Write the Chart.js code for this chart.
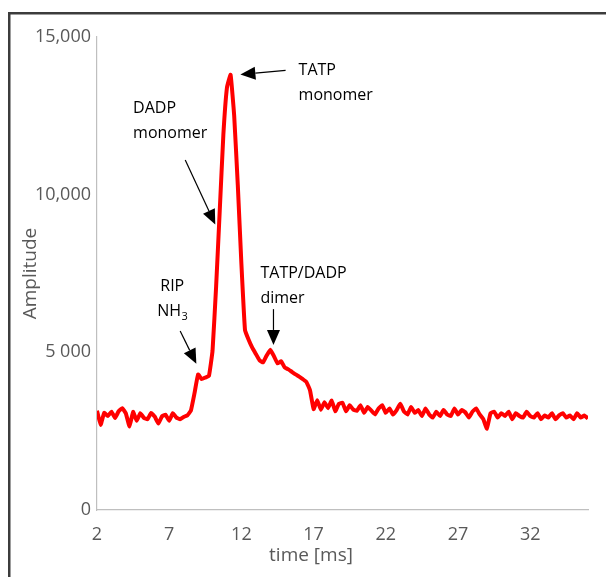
<!DOCTYPE html>
<html>
<head>
<meta charset="utf-8">
<script src="https://cdn.jsdelivr.net/npm/chart.js@4.4.1/dist/chart.umd.min.js"></script>
<style>
  html, body { margin: 0; padding: 0; background: #fff; }
  #wrap { width: 606px; height: 577px; position: relative; }
</style>
</head>
<body>
<div id="wrap"><canvas id="ims"></canvas></div>
<script>
// drift time [ms]
var times = [
  2.00, 2.25, 2.50, 2.75, 3.00, 3.25, 3.50, 3.75, 4.00, 4.25, 4.50, 4.75,
  5.00, 5.25, 5.50, 5.75, 6.00, 6.25, 6.50, 6.75, 7.00, 7.25, 7.50, 7.75,
  8.00, 8.25, 8.50, 8.75, 9.00, 9.25, 9.50, 9.75, 10.00, 10.25, 10.50, 10.75,
  11.00, 11.25, 11.50, 11.75, 12.00, 12.25, 12.50, 12.75, 13.00, 13.25, 13.50, 13.75,
  14.00, 14.25, 14.50, 14.75, 15.00, 15.25, 15.50, 15.75, 16.00, 16.25, 16.50, 16.75,
  17.00, 17.25, 17.50, 17.75, 18.00, 18.25, 18.50, 18.75, 19.00, 19.25, 19.50, 19.75,
  20.00, 20.25, 20.50, 20.75, 21.00, 21.25, 21.50, 21.75, 22.00, 22.25, 22.50, 22.75,
  23.00, 23.25, 23.50, 23.75, 24.00, 24.25, 24.50, 24.75, 25.00, 25.25, 25.50, 25.75,
  26.00, 26.25, 26.50, 26.75, 27.00, 27.25, 27.50, 27.75, 28.00, 28.25, 28.50, 28.75,
  29.00, 29.25, 29.50, 29.75, 30.00, 30.25, 30.50, 30.75, 31.00, 31.25, 31.50, 31.75,
  32.00, 32.25, 32.50, 32.75, 33.00, 33.25, 33.50, 33.75, 34.00, 34.25, 34.50, 34.75,
  35.00, 35.25, 35.50, 35.75, 36.00
];
// amplitude
var amplitude = [
  3150, 2700, 3080, 2980, 3120, 2920, 3130, 3230, 3060, 2650, 3110, 2830,
  3070, 2920, 2880, 3080, 2960, 2740, 2970, 3020, 2830, 3070, 2930, 2880,
  2950, 3000, 3150, 3700, 4300, 4150, 4200, 4250, 5050, 7100, 9500, 11900,
  13400, 13800, 12500, 10300, 7800, 5700, 5400, 5150, 4950, 4750, 4680, 4900,
  5080, 4880, 4650, 4720, 4520, 4460, 4380, 4300, 4230, 4150, 4060, 3800,
  3200, 3480, 3180, 3420, 3230, 3470, 3130, 3370, 3400, 3130, 3320, 3180,
  3150, 3320, 3080, 3270, 3150, 3030, 3220, 3320, 3080, 3220, 3030, 3170,
  3370, 3130, 3030, 3270, 3080, 3170, 2980, 3220, 3030, 2930, 3120, 2980,
  3170, 3030, 2980, 3220, 3030, 3170, 3100, 2930, 3120, 3220, 3030, 2880,
  2580, 3070, 3120, 2930, 3070, 2980, 3120, 2880, 3070, 2980, 2930, 3120,
  2980, 2930, 3070, 2880, 3000, 2930, 3070, 2880, 3000, 3070, 2930, 3000,
  2880, 3070, 2930, 3000, 2900
];
var xTicks = [2, 7, 12, 17, 22, 27, 32];
var yTicks = [0, 5000, 10000, 15000];
var yLabels = ['0', '5 000', '10,000', '15,000'];

// peak labels: text lines, text anchor and arrow (tail -> tip) in data units
var notes = [
  { lines: ['TATP', 'monomer'], at: [15.96, 13940], align: 'left', tail: [15.06, 13940], tip: [11.93, 13810] },
  { lines: ['DADP', 'monomer'], at: [4.5, 12740], align: 'left', tail: [8.11, 11100], tip: [10.19, 9050] },
  { lines: ['RIP', 'NH|3'], at: [7.21, 7090], align: 'center', tail: [7.76, 5675], tip: [8.88, 4635] },
  { lines: ['TATP/DADP', 'dimer'], at: [13.32, 7500], align: 'left', tail: [14.22, 6370], tip: [14.22, 5235] }
];

var pts = [];
for (var i = 0; i < times.length; i++) pts.push({ x: times[i], y: amplitude[i] });

function arrow(ctx, x1, y1, x2, y2) {
  var a = Math.atan2(y2 - y1, x2 - x1);
  var len = 15, half = 6.5;
  var bx = x2 - len * Math.cos(a), by = y2 - len * Math.sin(a);
  ctx.beginPath();
  ctx.moveTo(x1, y1);
  ctx.lineTo(bx, by);
  ctx.stroke();
  ctx.beginPath();
  ctx.moveTo(x2, y2);
  ctx.lineTo(bx + half * Math.sin(a), by - half * Math.cos(a));
  ctx.lineTo(bx - half * Math.sin(a), by + half * Math.cos(a));
  ctx.closePath();
  ctx.fill();
}

var extras = {
  id: 'extras',
  beforeDraw: function(chart) {
    var ctx = chart.ctx;
    ctx.save();
    ctx.strokeStyle = '#3c3c3c';
    ctx.lineWidth = 2.5;
    ctx.strokeRect(9.25, 13.25, 800, 800);
    ctx.restore();
  },
  afterDatasetsDraw: function(chart) {
    var ctx = chart.ctx, xs = chart.scales.x, ys = chart.scales.y;
    ctx.save();
    ctx.fillStyle = '#000';
    ctx.strokeStyle = '#000';
    ctx.lineWidth = 1.2;
    ctx.font = '16px "Open Sans"';
    ctx.textBaseline = 'middle';
    notes.forEach(function(n) {
      var x = xs.getPixelForValue(n.at[0]);
      var y = ys.getPixelForValue(n.at[1]);
      n.lines.forEach(function(t, k) {
        var yy = y + k * 25;
        var parts = t.split('|');
        var w = ctx.measureText(parts[0]).width;
        var subW = 0;
        if (parts[1]) {
          ctx.font = '11px "Open Sans"';
          subW = ctx.measureText(parts[1]).width;
          ctx.font = '16px "Open Sans"';
        }
        var x0 = n.align === 'center' ? x - (w + subW) / 2 : x;
        ctx.textAlign = 'left';
        ctx.fillText(parts[0], x0, yy);
        if (parts[1]) {
          ctx.font = '11px "Open Sans"';
          ctx.fillText(parts[1], x0 + w + 0.5, yy + 5);
          ctx.font = '16px "Open Sans"';
        }
      });
      arrow(ctx, xs.getPixelForValue(n.tail[0]), ys.getPixelForValue(n.tail[1]),
            xs.getPixelForValue(n.tip[0]), ys.getPixelForValue(n.tip[1]));
    });
    // x axis title
    ctx.fillStyle = '#595959';
    ctx.font = '19px "Open Sans"';
    ctx.textAlign = 'center';
    ctx.fillText('time [ms]', 311, 556);
    ctx.restore();
  }
};

new Chart(document.getElementById('ims'), {
  type: 'line',
  data: {
    datasets: [{
      data: pts,
      borderColor: '#ff0000',
      borderWidth: 4,
      pointRadius: 0,
      fill: false,
      tension: 0.1
    }]
  },
  options: {
    responsive: true,
    maintainAspectRatio: false,
    devicePixelRatio: 1,
    animation: false,
    layout: { padding: { left: 0, top: 37, right: 18, bottom: 0 } },
    plugins: { legend: { display: false }, tooltip: { enabled: false } },
    scales: {
      x: {
        type: 'linear',
        min: 2,
        max: 36,
        grid: { display: false, drawTicks: false },
        border: { display: true, color: '#bfbfbf', width: 1.2 },
        afterBuildTicks: function(s) { s.ticks = xTicks.map(function(v) { return { value: v }; }); },
        afterFit: function(s) { s.height = 67; },
        ticks: {
          color: '#595959',
          font: { family: 'Open Sans', size: 18 },
          padding: 14,
          maxRotation: 0,
          autoSkip: false
        }
      },
      y: {
        min: 0,
        max: 15000,
        grid: { display: false, drawTicks: false },
        border: { display: true, color: '#bfbfbf', width: 1.2 },
        afterBuildTicks: function(s) { s.ticks = yTicks.map(function(v) { return { value: v }; }); },
        afterFit: function(s) { s.width = 97; },
        ticks: {
          color: '#595959',
          font: { family: 'Open Sans', size: 18 },
          padding: 6,
          callback: function(v) { return yLabels[yTicks.indexOf(v)]; }
        },
        title: {
          display: true,
          text: 'Amplitude',
          color: '#595959',
          font: { family: 'Open Sans', size: 19 },
          padding: { top: 19, bottom: 0 }
        }
      }
    }
  },
  plugins: [extras]
});
</script>
</body>
</html>
